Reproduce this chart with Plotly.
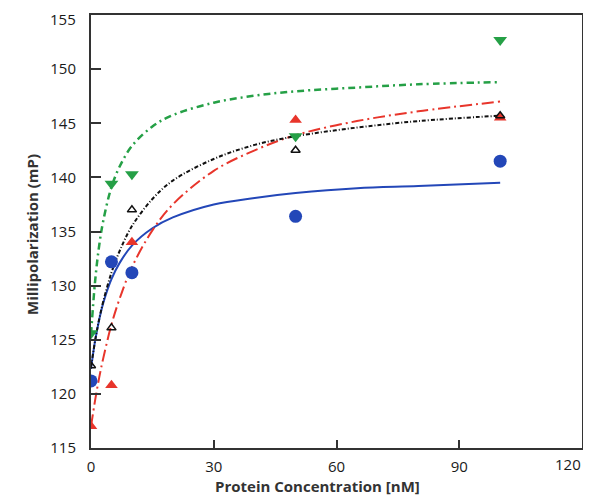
import plotly.graph_objects as go

# Measured data points (Protein concentration nM vs mP)
conc_pts = [0, 5, 10, 50, 100]
blue_pts = [121.2, 132.2, 131.2, 136.4, 141.5]
green_pts = [125.6, 139.4, 140.3, 143.8, 152.7]
red_pts = [117.0, 120.8, 134.0, 145.3, 145.5]
black_pts = [122.6, 126.1, 137.0, 142.5, 145.7]

# Fitted curves
conc_fit = [0, 1, 2, 3, 5, 7, 10, 15, 20, 30, 40, 50, 65, 80, 100]
blue_fit = [122.3, 124.9, 126.85, 128.4, 130.6, 132.1, 133.7, 135.3, 136.3, 137.5, 138.1, 138.55, 139.0, 139.2, 139.5]
black_fit = [122.5, 124.9, 126.9, 128.55, 131.2, 133.2, 135.5, 138.0, 139.7, 141.7, 143.0, 143.8, 144.6, 145.2, 145.7]
red_fit = [117.0, 119.4, 121.5, 123.3, 126.4, 128.8, 131.7, 135.1, 137.5, 140.6, 142.5, 143.9, 145.2, 146.1, 147.0]
green_fit = [125.5, 130.4, 133.7, 136.0, 139.1, 141.0, 142.9, 144.7, 145.75, 146.9, 147.55, 147.95, 148.3, 148.6, 148.8]

x_ticks = [0, 30, 60, 90, 120]
y_ticks = [115, 120, 125, 130, 135, 140, 145, 150, 155]

BLUE = "#2347b8"
RED = "#e8352b"
GREEN = "#25a046"
BLACK = "#111111"
FONT = "Open Sans, Liberation Sans, sans-serif"
TICKFONT = dict(family=FONT, size=15, color="#1a1a1a")

fig = go.Figure()

def line(xs, ys, color, dash, width=2):
    fig.add_trace(go.Scatter(x=xs, y=ys, mode="lines", line=dict(color=color, dash=dash, width=width, shape="spline"),
                             showlegend=False, hoverinfo="skip"))

line(conc_fit, blue_fit, BLUE, "solid")
line(conc_fit, red_fit, RED, "12px,4px,2px,4px")
line(conc_fit, black_fit, BLACK, "4px,2px,1px,2px")
line(conc_fit, green_fit, GREEN, "7px,4px,2px,4px", 2.5)

def pts(ys, color, symbol, size, lw=0):
    fig.add_trace(go.Scatter(x=conc_pts, y=ys, mode="markers",
                             marker=dict(color=color, symbol=symbol, size=size, line=dict(width=lw, color=color)),
                             showlegend=False))

pts(blue_pts, BLUE, "circle", 13)
pts(green_pts, GREEN, "triangle-down", 12)
pts(red_pts, RED, "triangle-up", 11)
pts(black_pts, BLACK, "triangle-up-open", 8, 1.5)

axis_common = dict(showgrid=False, zeroline=False, showline=True, linecolor="#333333", linewidth=2,
                   mirror=True, ticks="inside", tickcolor="#333333", tickwidth=2, automargin=False,
                   ticklabeloverflow="allow", tickfont=TICKFONT)

# the end labels (120 and 155) sit at the page edges, so they are placed as annotations
x_text = [str(v) if v != x_ticks[-1] else "" for v in x_ticks]
y_text = [str(v) if v != y_ticks[-1] else "" for v in y_ticks]

fig.update_xaxes(range=[0, 120], tickvals=x_ticks, ticktext=x_text, ticklen=8, ticklabelstandoff=4, **axis_common)
fig.update_yaxes(range=[115, 155], tickvals=y_ticks, ticktext=y_text, ticklen=10, ticklabelstandoff=10, **axis_common)

fig.add_annotation(text=str(x_ticks[-1]), xref="x", yref="paper", x=x_ticks[-1], y=0,
                   xanchor="right", yanchor="middle", xshift=1, yshift=-16,
                   showarrow=False, font=TICKFONT)
fig.add_annotation(text=str(y_ticks[-1]), xref="paper", yref="y", x=0, y=y_ticks[-1],
                   xanchor="right", yanchor="middle", xshift=-13, yshift=-4,
                   showarrow=False, font=TICKFONT)

fig.add_annotation(text="<b>Protein Concentration [nM]</b>", xref="paper", yref="paper",
                   x=(317 - 91) / 491, y=-(486 - 448) / 433, xanchor="center", yanchor="middle",
                   showarrow=False, font=dict(family=FONT, size=15, color="#333333"))
fig.add_annotation(text="<b>Millipolarization (mP)</b>", xref="paper", yref="paper",
                   x=-(91 - 32) / 491, y=(448 - 235) / 433, xanchor="center", yanchor="middle",
                   textangle=-90, showarrow=False, font=dict(family=FONT, size=15, color="#333333"))

# page body has an 8px default margin, so the figure is offset by it
fig.update_layout(width=583, height=490, margin=dict(l=83, r=9, t=7, b=50),
                  plot_bgcolor="white", paper_bgcolor="white")

fig.write_html("out.html")
